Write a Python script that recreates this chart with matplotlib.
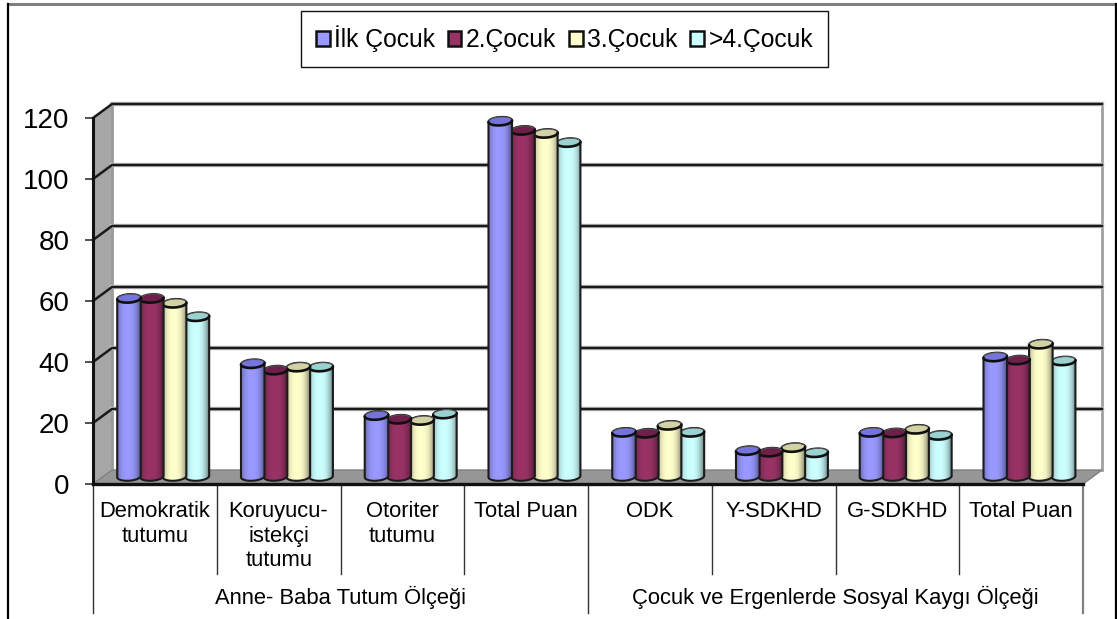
"""Excel style 3D cylinder chart of Anne-Baba Tutum and Sosyal Kaygi scores by birth order."""

import matplotlib
matplotlib.use("Agg")
import matplotlib.pyplot as plt
import numpy as np
from matplotlib.lines import Line2D
from matplotlib.patches import Patch, PathPatch, Polygon
from matplotlib.path import Path

plt.rcParams["font.family"] = ["Liberation Sans", "DejaVu Sans"]

categories = [
    "Demokratik\ntutumu", "Koruyucu-\nistekçi\ntutumu", "Otoriter\ntutumu", "Total Puan",
    "ODK", "Y-SDKHD", "G-SDKHD", "Total Puan",
]
groups = ["Anne- Baba Tutum Ölçeği", "Çocuk ve Ergenlerde Sosyal Kaygı Ölçeği"]
series_names = ["İlk Çocuk", "2.Çocuk", "3.Çocuk", ">4.Çocuk"]
ilk_cocuk = [58.4, 37, 20, 116.5, 14.5, 8.5, 14.5, 39.2]
ikinci_cocuk = [58.4, 34.9, 18.8, 113.5, 14.2, 8, 14.3, 38.2]
ucuncu_cocuk = [56.8, 35.9, 18.4, 112.5, 16.8, 9.5, 15.5, 43.4]
dorduncu_cocuk = [52.4, 35.9, 20.5, 109.5, 14.5, 7.8, 13.5, 37.9]
y_ticks = [0, 20, 40, 60, 80, 100, 120]

series = [ilk_cocuk, ikinci_cocuk, ucuncu_cocuk, dorduncu_cocuk]
colors = ["#9999FF", "#993366", "#FFFFCC", "#CCFFFF"]
cap_colors = ["#7474DC", "#6E1F4A", "#D2D2A4", "#9AD2D2"]

W, H = 1117, 619
LEFT, RIGHT, BASE, TOP = 93, 1083, 484, 118
PX = 8 / (RIGHT - LEFT)  # category units per pixel
PY = 120 / (BASE - TOP)  # value units per pixel
DX, DY = 19 * PX, 14 * PY  # depth of the 3D box


def ellipse(cx, cy, start=0.0, stop=2 * np.pi, a=11.8, b=4.2, tilt=4.0):
    t = np.linspace(start, stop, 50)
    ex, ey = a * np.cos(t), b * np.sin(t)
    r = np.radians(tilt)
    return np.column_stack([
        cx + (ex * np.cos(r) - ey * np.sin(r)) * PX,
        cy + (ex * np.sin(r) + ey * np.cos(r)) * PY,
    ])


def shaded(color, n=48):
    rgb = np.array(matplotlib.colors.to_rgb(color))
    u = np.linspace(-1, 1, n)
    shade = 1 - 0.38 * np.abs(u + 0.1) ** 2.6
    return (rgb[None, None, :] * shade[None, :, None]).clip(0, 1)


def draw_cylinder(ax, x, value, color, cap, z):
    base = 7.5 * PY
    top = base + value
    ax.bar(x, value, 23 * PX, bottom=base, color=color, linewidth=0, zorder=z, clip_on=False)
    bottom_arc = ellipse(x, base, np.pi, 2 * np.pi)
    top_arc = ellipse(x, top, 0, np.pi)
    outline = np.vstack([bottom_arc, top_arc])
    body = PathPatch(Path(np.vstack([outline, outline[:1]]), closed=True), facecolor="none",
                     edgecolor="#1c1c1c", linewidth=1.5, zorder=z + 0.3, clip_on=False)
    ax.add_patch(body)
    img = ax.imshow(shaded(color), extent=(x - 12 * PX, x + 12 * PX, base - 6 * PY, top + 6 * PY),
                    aspect="auto", zorder=z + 0.1, interpolation="bilinear")
    img.set_clip_path(body)
    ax.add_patch(Polygon(ellipse(x, top), closed=True, facecolor=cap, edgecolor="#555555",
                         linewidth=0.7, zorder=z + 0.4, clip_on=False))
    front = ellipse(x, top, np.pi, 2 * np.pi)
    ax.plot(front[:, 0], front[:, 1], color="#101010", lw=1.9, zorder=z + 0.5, clip_on=False,
            solid_capstyle="round")


def fig_line(fig, x0, y0, x1, y1, color, lw):
    fig.add_artist(Line2D([x0 / W, x1 / W], [1 - y0 / H, 1 - y1 / H], color=color, lw=lw,
                          transform=fig.transFigure))


def main():
    fig = plt.figure(figsize=(W / 100, H / 100), dpi=100, facecolor="white")
    ax = fig.add_axes([LEFT / W, 1 - BASE / H, (RIGHT - LEFT) / W, (BASE - TOP) / H])
    ax.patch.set_visible(False)
    for spine in ax.spines.values():
        spine.set_visible(False)

    # picture frame
    fig_line(fig, 8, 4, 1117, 4, "#808080", 2.2)
    fig_line(fig, 8, 4, 8, 619, "#000000", 1.6)
    fig_line(fig, 1116, 4, 1116, 619, "#000000", 1.6)

    # 3D box
    ax.add_patch(Polygon([(0, 0), (DX, DY), (DX, 120 + DY), (0, 120)], closed=True,
                         facecolor="#A6A6A6", edgecolor="none", zorder=1, clip_on=False))
    ax.add_patch(Polygon([(0, 0), (8, 0), (8 + DX, DY), (DX, DY)], closed=True,
                         facecolor="#969696", edgecolor="#808080", lw=1, zorder=3, clip_on=False))
    ax.plot([DX, DX], [DY, 120 + DY], color="#9a9a9a", lw=2, zorder=1.5, clip_on=False)
    ax.plot([8 + DX, 8 + DX], [DY, 120 + DY], color="#a0a0a0", lw=2, zorder=1.5, clip_on=False)
    for v in y_ticks[1:]:
        xs, ys = [0, DX, 8 + DX], [v, v + DY, v + DY]
        ax.plot(xs[1:], ys[1:], color="#c4c4c4", lw=3.2, zorder=1.8, clip_on=False)
        ax.plot(xs, ys, color="#1a1a1a", lw=1.8, zorder=2, clip_on=False)

    # cylinders, drawn right to left inside a group so each overlaps its right neighbour
    for i, vals in enumerate(series):
        for c, v in enumerate(vals):
            x = c + (24.5 + 11.5 + i * 22.8) * PX
            draw_cylinder(ax, x, v, colors[i], cap_colors[i], 4 + (3 - i))

    # front axis lines
    ax.plot([0, 0], [0, 120], color="#111111", lw=2.2, zorder=12, clip_on=False)
    ax.plot([0, 8], [0, 0], color="#111111", lw=2.4, zorder=12, clip_on=False)

    ax.set_xlim(0, 8)
    ax.set_ylim(0, 120)
    ax.set_xticks([])
    ax.set_yticks(y_ticks)
    ax.tick_params(axis="y", length=5.5, width=1.1, color="#222222", pad=11.5, labelsize=20)

    # multi level category axis
    inner_y = -90 * PY
    outer_y = -129 * PY
    for b in range(9):
        low = outer_y if b in (0, 4, 8) else inner_y
        color = "#808080" if b == 8 else "#333333"
        ax.plot([b, b], [0, low], color=color, lw=1.6 if b == 8 else 1.0, clip_on=False, zorder=2)
    for c, label in enumerate(categories):
        ax.text(c + 0.5, -17 * PY, label, ha="center", va="top", fontsize=15.8, linespacing=1.22,
                clip_on=False)
    for g, label in enumerate(groups):
        ax.text(2 + 4 * g, -113 * PY, label, ha="center", va="center", fontsize=15.8, clip_on=False)

    handles = [Patch(facecolor=c, edgecolor="#111111", linewidth=1.8) for c in colors]
    fig.legend(
        handles, series_names, loc="upper left", bbox_to_anchor=(301 / W, 1 - 10.5 / H), ncols=4,
        fontsize=17.7, fancybox=False, framealpha=1, edgecolor="#111111", handlelength=0.56,
        handleheight=0.56, handletextpad=0.18, columnspacing=0.52, borderpad=0.6, borderaxespad=0,
    ).get_frame().set_linewidth(1.0)

    fig.savefig("out.png", dpi=100)
    plt.close(fig)


if __name__ == "__main__":
    main()
